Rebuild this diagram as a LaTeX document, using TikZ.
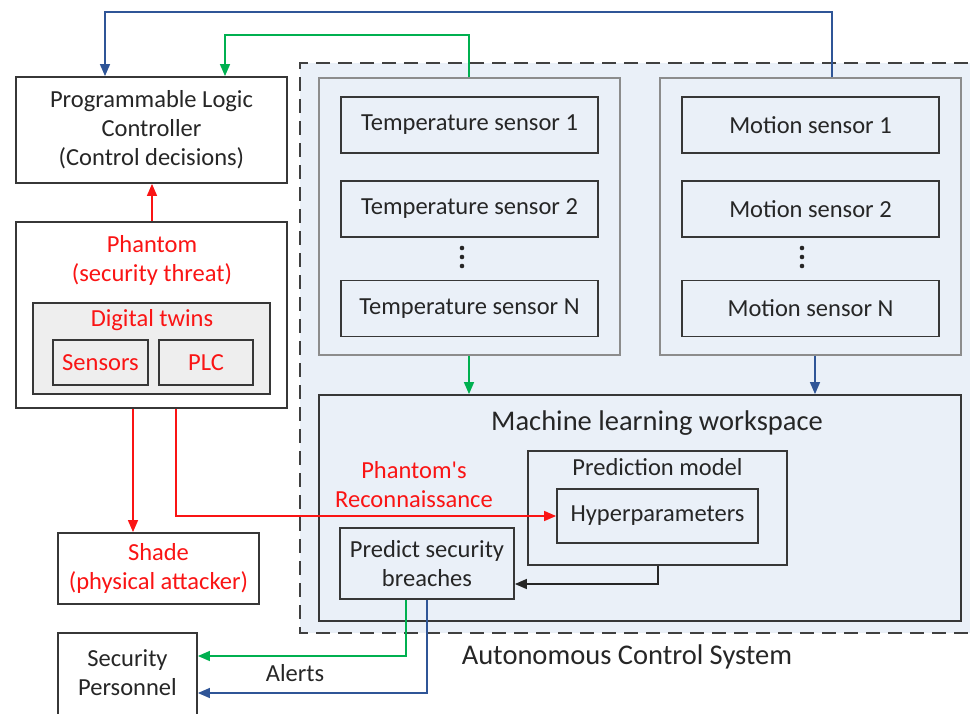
\documentclass[tikz,border=0pt]{standalone}
\usepackage{fontspec}
\setmainfont{Carlito}
\usetikzlibrary{arrows.meta}

\definecolor{paneblue}{RGB}{234,240,248}
\definecolor{twingray}{RGB}{238,238,238}
\definecolor{groupgray}{RGB}{140,140,140}
\definecolor{boxline}{RGB}{55,55,55}
\definecolor{threatred}{RGB}{250,20,20}
\definecolor{linkgreen}{RGB}{0,176,80}
\definecolor{linkblue}{RGB}{47,85,151}

\begin{document}
\begin{tikzpicture}[x=1pt,y=-1pt,
  txt/.style={font=\fontsize{24.5}{29}\selectfont, align=center, text=black!85},
  bigtxt/.style={font=\fontsize{28.5}{32}\selectfont, align=center, text=black!85},
  redtxt/.style={txt, text=threatred},
  box/.style={draw=boxline, line width=1.8pt, inner sep=0pt, minimum width=#1},
  whitebox/.style={box=#1, fill=white},
  bluebox/.style={box=#1, fill=paneblue},
  graybox/.style={box=#1, fill=twingray},
  group/.style={draw=groupgray, line width=1.3pt, fill=paneblue, inner sep=0pt, minimum width=#1},
  conn/.style={line width=1.4pt, -{Triangle[length=12pt,width=10pt]}},
  redconn/.style={conn, draw=threatred, -{Triangle[length=12pt,width=10pt,fill=threatred]}},
  greenconn/.style={conn, draw=linkgreen},
  blueconn/.style={conn, draw=linkblue},
  blackconn/.style={conn, draw=black!85}]

\useasboundingbox (0,0) rectangle (970,713);

% Autonomous control system frame (open on the right)
\fill[paneblue] (300,63) rectangle (990,633);
\draw[black!75, line width=2.2pt, dash pattern=on 14pt off 8pt] (990,63) -- (300,63) -- (300,633) -- (990,633);
\node[bigtxt] (acs) at (627,657) {Autonomous Control System};

% sensor groups
\node[group=301pt, minimum height=277pt] (tgroup) at (469.5,216.5) {};
\node[group=301pt, minimum height=277pt] (mgroup) at (810.5,216.5) {};

\node[bluebox=257pt, minimum height=56pt, txt] (t1) at (469.5,125) {Temperature sensor 1};
\node[bluebox=257pt, minimum height=56pt, txt] (t2) at (469.5,209) {Temperature sensor 2};
\node[bluebox=257pt, minimum height=56pt, txt] (tn) at (469.5,308.5) {Temperature sensor N};
\node[bluebox=257pt, minimum height=56pt, txt] (m1) at (810.5,125) {Motion sensor 1};
\node[bluebox=257pt, minimum height=56pt, txt] (m2) at (810.5,209) {Motion sensor 2};
\node[bluebox=257pt, minimum height=56pt, txt] (mn) at (810.5,308.5) {Motion sensor N};
\foreach \x in {462,802}{
  \foreach \y in {248,257,266} \fill[black!85] (\x,\y) circle (2.3pt);
}

% machine learning workspace
\node[bluebox=642pt, minimum height=226pt] (ml) at (640,508) {};
\node[bigtxt] (mltitle) at (657,423) {Machine learning workspace};
\node[bluebox=259pt, minimum height=114pt] (pm) at (657.5,508) {};
\node[txt] (pmtitle) at (657.5,467) {Prediction model};
\node[bluebox=201pt, minimum height=54pt, txt] (hyper) at (657.5,516) {Hyperparameters};
\node[bluebox=174pt, minimum height=71pt, txt] (predict) at (427,563.5) {Predict security\\breaches};

% left column
\node[whitebox=271pt, minimum height=106pt, txt] (plc) at (151.5,130) {Programmable Logic\\Controller\\(Control decisions)};
\node[whitebox=271pt, minimum height=186pt] (phantom) at (151.5,315) {};
\node[redtxt] (phtitle) at (152,260) {Phantom\\(security threat)};
\node[graybox=237pt, minimum height=91pt] (twins) at (151.5,348.5) {};
\node[redtxt] (twtitle) at (152,320) {Digital twins};
\node[graybox=95pt, minimum height=45pt, redtxt] (tsens) at (100.5,362.5) {Sensors};
\node[graybox=94pt, minimum height=45pt, redtxt] (tplc) at (206,362.5) {PLC};
\node[whitebox=201pt, minimum height=71pt, redtxt] (shade) at (158.5,568.5) {Shade\\(physical attacker)};
\node[whitebox=139pt, minimum height=84pt] (staff) at (127.5,675) {};
\node[txt] (stafftxt) at (127.5,673) {Security\\Personnel};

% labels on connectors
\node[redtxt] (recon) at (414,485) {Phantom\textquotesingle s\\Reconnaissance};
\node[txt] (alerts) at (295,673) {Alerts};

% connectors
\draw[blueconn] (mgroup.north -| 832,0) -- (832,12) -| (plc.north -| 105,0);
\draw[greenconn] (tgroup.north -| 469,0) -- (469,35) -| (plc.north -| 225,0);
\draw[redconn] (phantom.north -| 152,0) -- (plc.south -| 152,0);
\draw[redconn] (phantom.south -| 133,0) -- (shade.north -| 133,0);
\draw[redconn] (phantom.south -| 176,0) |- (hyper.west);
\draw[greenconn] (tgroup.south -| 469,0) -- (ml.north -| 469,0);
\draw[blueconn] (mgroup.south -| 815,0) -- (ml.north -| 815,0);
\draw[blackconn] (pm.south -| 658,0) |- (predict.east |- 0,584);
\draw[greenconn] (predict.south -| 406,0) |- (staff.east |- 0,656);
\draw[blueconn] (predict.south -| 427,0) |- (staff.east |- 0,693);
\end{tikzpicture}
\end{document}
